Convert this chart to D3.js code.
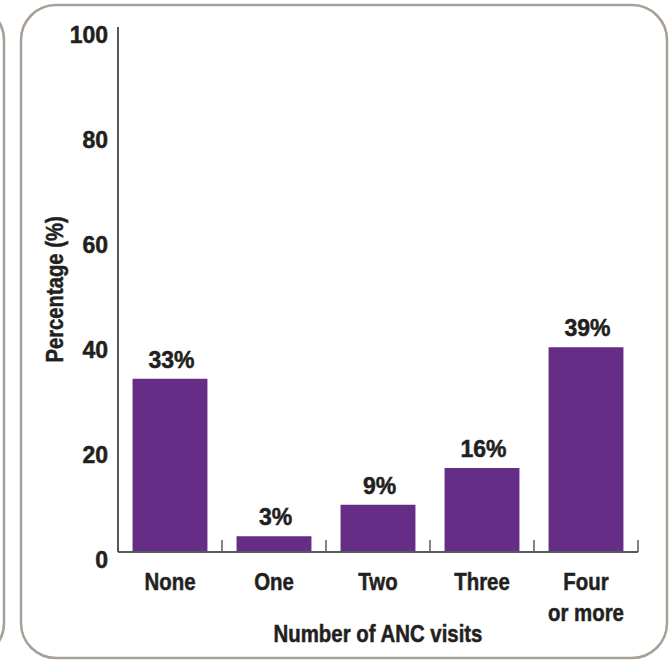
<!DOCTYPE html>
<html>
<head>
<meta charset="utf-8">
<script src="https://cdn.jsdelivr.net/npm/d3@7"></script>
<style>
  html, body { margin: 0; padding: 0; background: #ffffff; }
  svg { display: block; }
  text { stroke: #231f20; stroke-width: 0.5px; paint-order: stroke; }
</style>
</head>
<body>
<svg id="chart" width="671" height="660"></svg>
<script>
// ---- data ----
const categories = ["None", "One", "Two", "Three", "Four or more"];
const categoryLines = [["None"], ["One"], ["Two"], ["Three"], ["Four", "or more"]];
const values = [33, 3, 9, 16, 39];
const yTicks = [0, 20, 40, 60, 80, 100];
const yTitle = "Percentage (%)";
const xTitle = "Number of ANC visits";

// ---- layout ----
const plot = { left: 118, right: 638, top: 27, bottom: 552 };
const barColor = "#652d86";
const textColor = "#231f20";
const font = "'Liberation Sans', Arial, sans-serif";
const condense = 0.85;

const svg = d3.select("#chart");

// condensed text: shrink natural width horizontally
function condensed(sel, factor) {
  sel.each(function() {
    const len = this.getComputedTextLength();
    d3.select(this).attr("textLength", len * factor).attr("lengthAdjust", "spacingAndGlyphs");
  });
}

// panel borders
svg.append("rect")
  .attr("x", -640).attr("y", 5).attr("width", 644).attr("height", 653)
  .attr("rx", 35).attr("ry", 35)
  .attr("fill", "none").attr("stroke", "#a89f96").attr("stroke-width", 2.5);
svg.append("rect")
  .attr("x", 21).attr("y", 5).attr("width", 646).attr("height", 653)
  .attr("rx", 35).attr("ry", 35)
  .attr("fill", "#ffffff").attr("stroke", "#a89f96").attr("stroke-width", 2.5);

// scales
const pad = 0.28;
const x = d3.scaleBand()
  .domain(categories)
  .range([plot.left, plot.right])
  .paddingInner(pad)
  .paddingOuter(pad / 2);
const y = d3.scaleLinear().domain([0, 100]).range([plot.bottom, plot.top]);

// bars
svg.append("g").selectAll("rect")
  .data(categories)
  .join("rect")
  .attr("x", d => x(d))
  .attr("width", x.bandwidth())
  .attr("y", (d, i) => y(values[i]))
  .attr("height", (d, i) => y(0) - y(values[i]))
  .attr("fill", barColor);

// value labels
svg.append("g").selectAll("text")
  .data(categories)
  .join("text")
  .attr("x", d => x(d) + x.bandwidth() / 2 + 1.5)
  .attr("y", (d, i) => y(values[i]) - 11)
  .attr("text-anchor", "middle")
  .attr("font-family", font)
  .attr("font-weight", "bold")
  .attr("font-size", 23)
  .attr("fill", textColor)
  .text((d, i) => values[i] + "%");

// y axis (line + labels, no tick marks)
const yAxis = d3.axisLeft(y).tickValues(yTicks).tickSize(0).tickPadding(10);
const gy = svg.append("g").attr("transform", `translate(${plot.left},0)`).call(yAxis);
gy.select(".domain").attr("stroke", textColor).attr("stroke-width", 1.5)
  .attr("d", `M0,${plot.top}V${plot.bottom}`);
gy.selectAll("text")
  .attr("font-family", font)
  .attr("font-weight", "bold")
  .attr("font-size", 23)
  .attr("fill", textColor)
  .attr("dy", null)
  .attr("y", 15);

// x axis baseline and upward boundary ticks
const step = x.step();
const gap = step - x.bandwidth();
const boundaries = categories.map(c => x(c) - gap / 2)
  .concat([x(categories[categories.length - 1]) + x.bandwidth() + gap / 2]);
svg.append("g").selectAll("line")
  .data(boundaries)
  .join("line")
  .attr("x1", d => d).attr("x2", d => d)
  .attr("y1", plot.bottom - 12).attr("y2", plot.bottom)
  .attr("stroke", "#58595b").attr("stroke-width", 1.5);
svg.append("line")
  .attr("x1", plot.left).attr("x2", plot.right)
  .attr("y1", plot.bottom).attr("y2", plot.bottom)
  .attr("stroke", "#58595b").attr("stroke-width", 2);

// category labels (one text per line)
const catData = [];
categories.forEach((c, i) => categoryLines[i].forEach((line, j) => catData.push({ c, line, j })));
svg.append("g").selectAll("text")
  .data(catData)
  .join("text")
  .attr("x", d => x(d.c) + x.bandwidth() / 2)
  .attr("y", d => 590 + d.j * 31)
  .attr("text-anchor", "middle")
  .attr("font-family", font)
  .attr("font-weight", "bold")
  .attr("font-size", 24)
  .attr("fill", textColor)
  .text(d => d.line)
  .call(condensed, condense);

// axis titles
svg.append("text")
  .attr("x", (plot.left + plot.right) / 2)
  .attr("y", 642)
  .attr("text-anchor", "middle")
  .attr("font-family", font)
  .attr("font-weight", "bold")
  .attr("font-size", 24)
  .attr("fill", textColor)
  .text(xTitle)
  .call(condensed, condense);

svg.append("text")
  .attr("transform", `translate(63,${(plot.top + plot.bottom) / 2}) rotate(-90)`)
  .attr("text-anchor", "middle")
  .attr("font-family", font)
  .attr("font-weight", "bold")
  .attr("font-size", 23)
  .attr("fill", textColor)
  .text(yTitle)
  .call(condensed, 0.88);
</script>
</body>
</html>
